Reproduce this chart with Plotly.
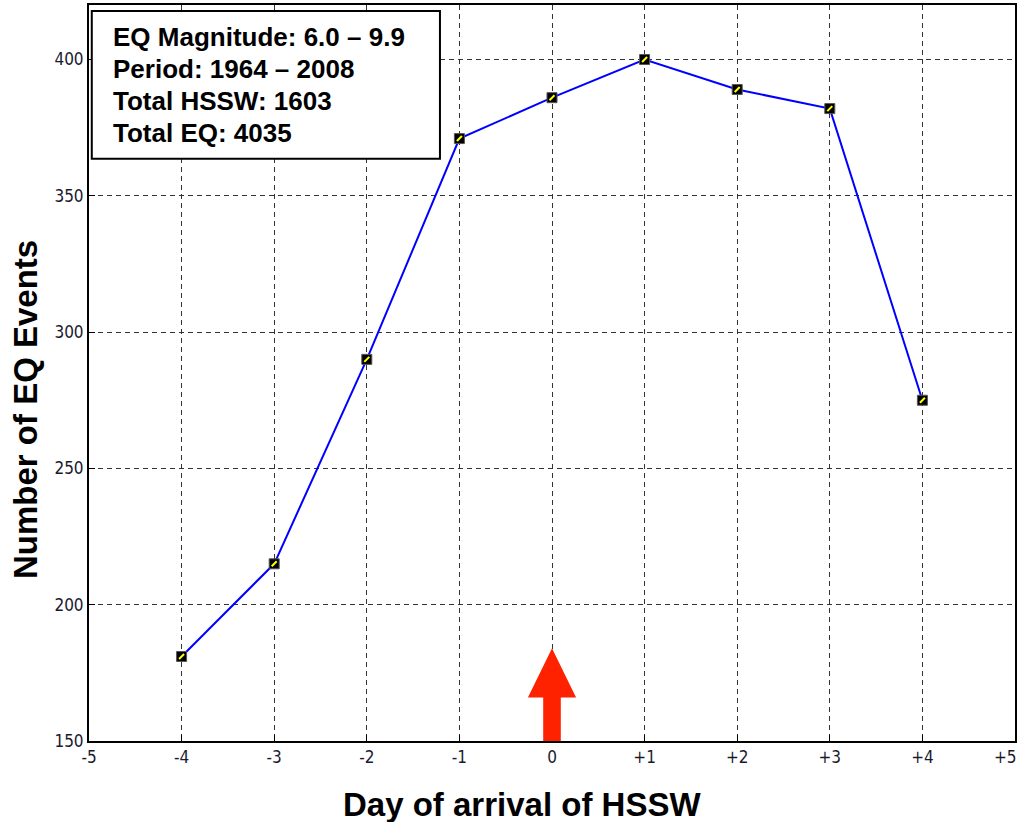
import plotly.graph_objects as go

days = [-4, -3, -2, -1, 0, 1, 2, 3, 4]
eq_counts = [181, 215, 290, 371, 386, 400, 389, 382, 275]

x_ticks = [-5, -4, -3, -2, -1, 0, 1, 2, 3, 4, 5]
x_tick_labels = ["-5", "-4", "-3", "-2", "-1", "0", "+1", "+2", "+3", "+4", "+5"]
y_ticks = [150, 200, 250, 300, 350, 400]

info_lines = ["EQ Magnitude: 6.0 – 9.9", "Period: 1964 – 2008",
              "Total HSSW: 1603", "Total EQ: 4035"]

_TICKFONT = {"family": '"DejaVu Sans Condensed", "Liberation Sans Narrow", Arial, sans-serif',
             "size": 17, "color": "#1a1a2e"}
_TITLEFONT = {"family": '"Liberation Sans", Arial, sans-serif', "size": 33, "color": "black"}

fig = go.Figure()
fig.add_trace(go.Scatter(
    x=days, y=eq_counts, mode="lines+markers",
    line={"color": "#0000ff", "width": 2},
    marker={"symbol": "square", "size": 10, "color": "black",
            "line": {"color": "#555555", "width": 1}},
    showlegend=False))
# little yellow tick inside each marker, as in the original
fig.add_trace(go.Scatter(
    x=days, y=eq_counts, mode="markers",
    marker={"symbol": "line-ne", "size": 5, "line": {"color": "yellow", "width": 2}},
    showlegend=False, hoverinfo="skip"))

# red arrow marking day 0 (arrival of HSSW)
fig.add_shape(type="path", xref="x", yref="y", layer="above",
              path="M -0.095 150 L -0.095 166 L -0.26 166 L 0 184 L 0.26 166 L 0.095 166 L 0.095 150 Z",
              fillcolor="#ff2200", line={"width": 0})

# info box
fig.add_shape(type="rect", xref="paper", yref="paper",
              x0=0.003, x1=0.379, y0=0.791, y1=0.992,
              fillcolor="white", line={"color": "black", "width": 2})
for i, t in enumerate(info_lines):
    fig.add_annotation(xref="paper", yref="paper", x=0.024, y=0.957 - i * 0.0435,
                       xanchor="left", yanchor="middle", align="left", showarrow=False,
                       text=f"<b>{t}</b>",
                       font={"family": '"Liberation Sans", Arial, sans-serif', "size": 26,
                             "color": "black"})

# last tick label sits on the window edge; plotly drops it, so place it by hand
fig.add_annotation(xref="x", yref="paper", x=x_ticks[-1], y=0, yshift=-4, xshift=4,
                   xanchor="right", yanchor="top", showarrow=False,
                   text=x_tick_labels[-1], font=_TICKFONT)

# axis titles sit off-centre in the original, so they are placed as annotations
fig.add_annotation(xref="paper", yref="paper", x=0.4676, y=-0.0856,
                   xanchor="center", yanchor="middle", showarrow=False,
                   text="<b>Day of arrival of HSSW</b>", font=_TITLEFONT)
fig.add_annotation(xref="paper", yref="paper", x=-0.0691, y=0.4497, textangle=-90,
                   xanchor="center", yanchor="middle", showarrow=False,
                   text="<b>Number of EQ Events</b>", font=_TITLEFONT)

_grid = {"showgrid": True, "gridcolor": "#333333", "griddash": "5px,4px", "gridwidth": 1,
         "zeroline": False, "showline": True, "linecolor": "black", "linewidth": 2,
         "mirror": True, "automargin": False, "ticks": "inside", "ticklen": 6,
         "tickcolor": "black", "tickfont": _TICKFONT}

fig.update_layout(
    width=1021, height=822,
    margin={"l": 89, "r": 6, "t": 5, "b": 81},
    paper_bgcolor="white", plot_bgcolor="white",
    xaxis={**_grid, "range": [-5, 5], "tickvals": x_ticks[:-1],
           "ticktext": x_tick_labels[:-1]},
    yaxis={**_grid, "range": [150, 420], "tickvals": y_ticks},
)

# drop the page's default body margin so the figure sits at the window corner
fig.write_html("out.html", config={"displayModeBar": False},
               post_script="document.body.style.margin='0';")
